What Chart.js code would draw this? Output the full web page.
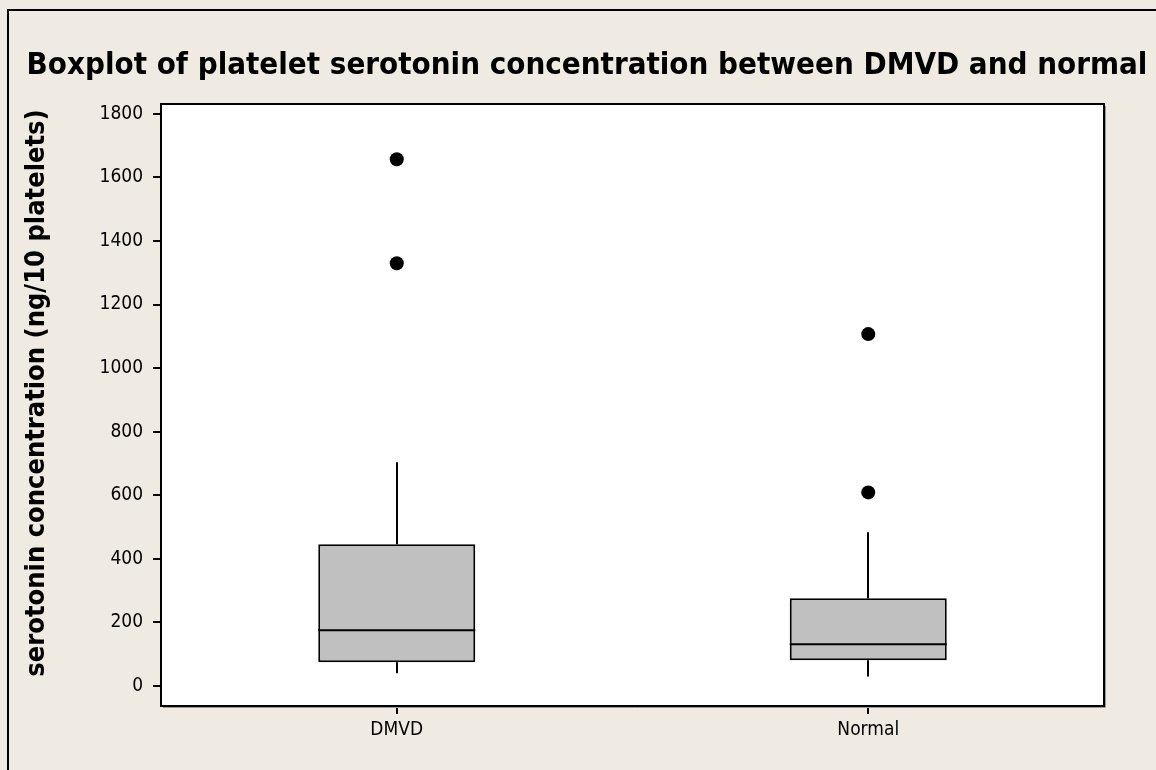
<!DOCTYPE html>
<html>
<head>
<meta charset="utf-8">
<script src="https://cdn.jsdelivr.net/npm/chart.js@4"></script>
<style>
  body { margin: 0; background: #EFEBE2; }
  #wrap { width: 1156px; height: 770px; position: relative; }
</style>
</head>
<body>
<div id="wrap"><canvas id="boxplot"></canvas></div>
<script>
// valeurs
const categories = ['DMVD', 'Normal'];
const whiskerLow = [40, 30];
const q1 = [75, 81];
const median = [175, 131];
const q3 = [446, 276];
const whiskerHigh = [704, 484];
const outliers = [[1657, 1330], [1107, 609]];
const yTicks = [0, 200, 400, 600, 800, 1000, 1200, 1400, 1600, 1800];

const titleText = 'Boxplot of platelet serotonin concentration between DMVD and normal';
const yTitleText = 'serotonin concentration (ng/10 platelets)';

// points des valeurs extrêmes
const outlierPoints = [];
outliers.forEach((vals, i) => {
    vals.forEach(v => outlierPoints.push({ x: categories[i], y: v }));
});

// fond, cadre, moustaches, médianes et titres
const boxPlugin = {
    id: 'boxPlugin',
    beforeDraw(chart) {
        const { ctx, chartArea: a } = chart;
        ctx.save();
        ctx.strokeStyle = '#000';
        ctx.lineWidth = 2;
        ctx.strokeRect(8, 10, 1300, 1000);
        ctx.fillStyle = '#fff';
        ctx.fillRect(a.left, a.top, a.right - a.left, a.bottom - a.top);
        ctx.restore();
    },
    afterDatasetsDraw(chart) {
        const { ctx, chartArea: a } = chart;
        const y = chart.scales.y;
        const bars = chart.getDatasetMeta(0).data;
        ctx.save();
        ctx.strokeStyle = '#000';
        ctx.lineWidth = 2;
        bars.forEach((bar, i) => {
            const cx = Math.round(bar.x);
            ctx.beginPath();
            ctx.moveTo(cx, y.getPixelForValue(q3[i]));
            ctx.lineTo(cx, y.getPixelForValue(whiskerHigh[i]));
            ctx.moveTo(cx, y.getPixelForValue(q1[i]));
            ctx.lineTo(cx, y.getPixelForValue(whiskerLow[i]));
            const my = y.getPixelForValue(median[i]);
            ctx.moveTo(bar.x - bar.width / 2, my);
            ctx.lineTo(bar.x + bar.width / 2, my);
            ctx.stroke();
        });
        // cadre de la zone de tracé
        ctx.strokeRect(a.left, a.top, a.right - a.left, a.bottom - a.top);
        ctx.strokeStyle = '#9a9a9a';
        ctx.lineWidth = 1;
        ctx.beginPath();
        ctx.moveTo(a.right + 1.5, a.top + 2);
        ctx.lineTo(a.right + 1.5, a.bottom + 1.5);
        ctx.lineTo(a.left + 2, a.bottom + 1.5);
        ctx.stroke();

        // titres
        ctx.fillStyle = '#000';
        ctx.textAlign = 'center';
        ctx.textBaseline = 'middle';
        ctx.font = 'bold 31px "DejaVu Sans Condensed"';
        ctx.fillText(titleText, 587, 66);
        ctx.translate(37, 393);
        ctx.rotate(-Math.PI / 2);
        ctx.font = 'bold 27px "DejaVu Sans Condensed"';
        ctx.fillText(yTitleText, 0, 0);
        ctx.restore();
    }
};

const tickFont = { family: '"DejaVu Sans Condensed"', size: 19 };

const ctx = document.getElementById('boxplot').getContext('2d');
const chart = new Chart(ctx, {
    type: 'bar',
    data: {
        labels: categories,
        datasets: [{
            label: 'box',
            data: categories.map((c, i) => [q1[i], q3[i]]),
            backgroundColor: '#C0C0C0',
            borderColor: '#000',
            borderWidth: 2,
            borderSkipped: false,
            categoryPercentage: 1,
            barPercentage: 0.333
        }, {
            type: 'line',
            label: 'outliers',
            data: outlierPoints,
            showLine: false,
            pointRadius: 7,
            pointBackgroundColor: '#000',
            pointBorderWidth: 0
        }]
    },
    options: {
        responsive: true,
        maintainAspectRatio: false,
        animation: false,
        layout: { padding: { left: 0, top: 104, right: 52, bottom: 0 } },
        plugins: {
            legend: { display: false },
            tooltip: { enabled: false }
        },
        scales: {
            x: {
                grid: { drawOnChartArea: false, offset: false, tickLength: 8, color: '#000', lineWidth: 2 },
                border: { color: '#000', width: 2 },
                ticks: { color: '#000', font: tickFont, padding: 5 },
                afterFit(scale) { scale.height = 64; }
            },
            y: {
                min: -63,
                max: 1831,
                grid: { drawOnChartArea: false, tickLength: 8, color: '#000', lineWidth: 2 },
                border: { color: '#000', width: 2 },
                ticks: { color: '#000', font: tickFont, padding: 10, callback: v => String(v) },
                afterBuildTicks(scale) { scale.ticks = yTicks.map(v => ({ value: v })); },
                afterFit(scale) { scale.width = 161; }
            }
        }
    },
    plugins: [boxPlugin]
});
</script>
</body>
</html>
